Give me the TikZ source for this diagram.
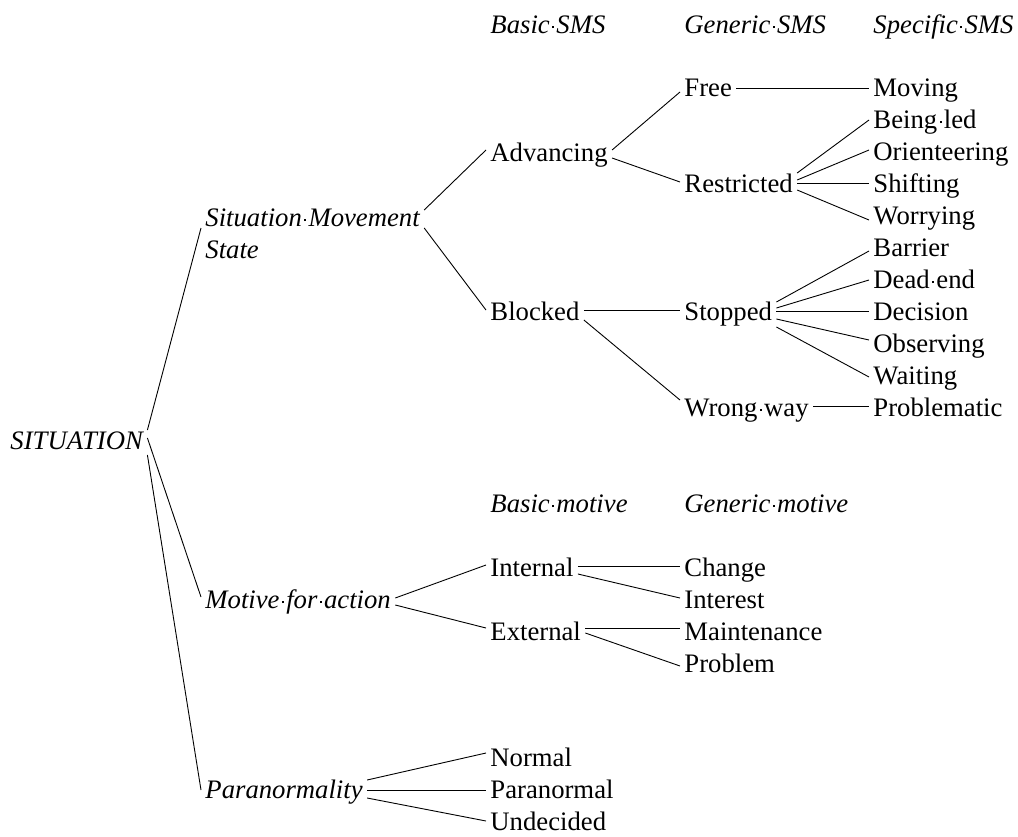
\documentclass[tikz,border=0pt]{standalone}
\usepackage{fontspec}
\setmainfont{Liberation Serif}
% type size used throughout
\newcommand\fs{\fontsize{26.7}{32}\selectfont}
% a small raised dot standing in for each word space
\newcommand\vs{\makebox[0.25em]{\rule[0.21em]{0.07em}{0.07em}}}
% branch from parent P (vertical offset a, downwards) to child C (offset b)
\newcommand\branch[4]{\draw ([yshift={-(#2)*1pt}]#1.east) -- ([yshift={-(#4)*1pt}]#3.west);}
\begin{document}
\begin{tikzpicture}[x=1pt,y=-1pt,
  line width=0.9pt,
  lbl/.style={anchor=west,inner xsep=4pt,inner ysep=0pt,text height=17.6pt,text depth=0pt,font=\fs},
  cat/.style={lbl,font=\fs\itshape}]
\useasboundingbox (0,0) rectangle (1018,836);

% column headings
\node[cat] (hbasic) at (486,25) {Basic\vs SMS};
\node[cat] (hgen)   at (680,25) {Generic\vs SMS};
\node[cat] (hspec)  at (869,25) {Specific\vs SMS};
\node[cat] (hbm)    at (486,504) {Basic\vs motive};
\node[cat] (hgm)    at (680,504) {Generic\vs motive};

% root and main categories
\node[cat] (sit) at (6,441) {SITUATION};
\node[anchor=west,align=left,inner xsep=4pt,inner ysep=0pt,font=\fs\itshape] (sms) at (201,234) {Situation\vs Movement\\State};
\node[cat] (mot) at (201,600) {Motive\vs for\vs action};
\node[cat] (par) at (201,790) {Paranormality};

% situation movement state
\node[lbl] (adv)   at (486,153) {Advancing};
\node[lbl] (blk)   at (486,312) {Blocked};
\node[lbl] (free)  at (680,88)  {Free};
\node[lbl] (restr) at (680,184) {Restricted};
\node[lbl] (stop)  at (680,312) {Stopped};
\node[lbl] (wrong) at (680,408) {Wrong\vs way};
\node[lbl] (moving)  at (869,88)  {Moving};
\node[lbl] (led)     at (869,120) {Being\vs led};
\node[lbl] (orient)  at (869,152) {Orienteering};
\node[lbl] (shift)   at (869,184) {Shifting};
\node[lbl] (worry)   at (869,216) {Worrying};
\node[lbl] (barrier) at (869,248) {Barrier};
\node[lbl] (dead)    at (869,280) {Dead\vs end};
\node[lbl] (decide)  at (869,312) {Decision};
\node[lbl] (observe) at (869,344) {Observing};
\node[lbl] (wait)    at (869,376) {Waiting};
\node[lbl] (problm)  at (869,408) {Problematic};

% motive for action
\node[lbl] (int)      at (486,568) {Internal};
\node[lbl] (ext)      at (486,632) {External};
\node[lbl] (change)   at (680,568) {Change};
\node[lbl] (interest) at (680,600) {Interest};
\node[lbl] (maint)    at (680,632) {Maintenance};
\node[lbl] (problem)  at (680,664) {Problem};

% paranormality
\node[lbl] (normal) at (486,758) {Normal};
\node[lbl] (paran)  at (486,790) {Paranormal};
\node[lbl] (undec)  at (486,822) {Undecided};

% connectors
\branch{sit}{-11}{sms}{-6}
\branch{sit}{-3}{mot}{-3}
\branch{sit}{14}{par}{0}

\branch{sms}{-24}{adv}{-3}
\branch{sms}{-6}{blk}{-2}
\branch{adv}{-3}{free}{4}
\branch{adv}{5}{restr}{-2}
\branch{blk}{-2}{stop}{-2}
\branch{blk}{8}{wrong}{-8}

\branch{free}{0}{moving}{0}
\branch{restr}{-11}{led}{0}
\branch{restr}{-4}{orient}{-2}
\branch{restr}{-1}{shift}{-1}
\branch{restr}{6}{worry}{4}
\branch{stop}{-10}{barrier}{3}
\branch{stop}{-4}{dead}{0}
\branch{stop}{-1}{decide}{-1}
\branch{stop}{7}{observe}{-4}
\branch{stop}{15}{wait}{1}
\branch{wrong}{-2}{problm}{-2}

\branch{mot}{-2}{int}{-3}
\branch{mot}{5}{ext}{-4}
\branch{int}{-2}{change}{-2}
\branch{int}{6}{interest}{-2}
\branch{ext}{-4}{maint}{-4}
\branch{ext}{1}{problem}{2}

\branch{par}{-10}{normal}{-5}
\branch{par}{0}{paran}{0}
\branch{par}{8}{undec}{-1}
\end{tikzpicture}
\end{document}
